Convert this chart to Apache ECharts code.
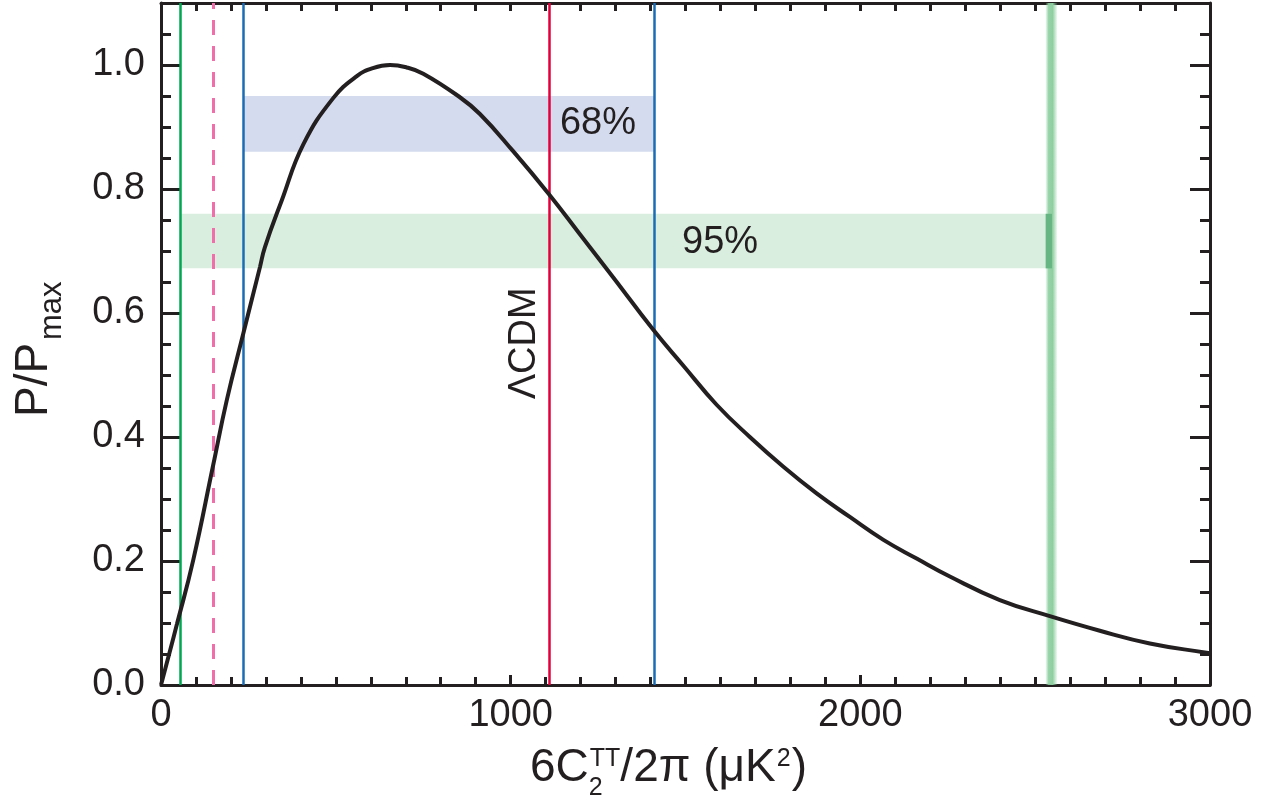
<!DOCTYPE html>
<html>
<head>
<meta charset="utf-8">
<script src="https://cdn.jsdelivr.net/npm/echarts@6/dist/echarts.min.js"></script>
<style>
html,body{margin:0;padding:0;background:#fff;}
#chart{width:1273px;height:799px;}
</style>
</head>
<body>
<div id="chart"></div>
<script>
// 曲线数据 (x, P/Pmax)
const xVals = [0, 46, 92, 149, 188, 235, 283, 297, 345, 407, 493, 560, 606, 655, 703, 750, 850, 912, 1007, 1109, 1198, 1294, 1409, 1494, 1589, 1684, 1780, 1875, 1970, 2066, 2161, 2256, 2399, 2542, 2685, 2828, 2990, 3000]
const yVals = [0, 0.099, 0.201, 0.354, 0.459, 0.566, 0.674, 0.706, 0.781, 0.872, 0.947, 0.982, 0.995, 1.0, 0.996, 0.986, 0.950, 0.921, 0.861, 0.792, 0.727, 0.657, 0.572, 0.515, 0.452, 0.400, 0.352, 0.309, 0.271, 0.234, 0.204, 0.175, 0.137, 0.111, 0.0875, 0.067, 0.052, 0.051]

// 竖线位置
const greenLineX = 55
const pinkLineX = 150
const blueLeftX = 235
const lcdmX = 1110
const blueRightX = 1410
const greenBandX = [2530, 2563]

// 置信区间带
const band68 = {x: [235, 1410], y: [0.86, 0.95]}
const band95 = {x: [55, 2548], y: [0.672, 0.76]}

// 刻度
const xTicks = [0, 1000, 2000, 3000]
const yTicks = [0, 0.2, 0.4, 0.6, 0.8, 1.0]

const FONT = "'Liberation Sans', Arial, Helvetica, sans-serif"
const INK = '#231f20'

let box = document.querySelector('#chart')
let myChart = echarts.init(box)

// 量文字宽度,用来排x轴标题
let ctx = document.createElement('canvas').getContext('2d')
function textW(s, size){
    ctx.font = size + 'px ' + FONT
    return ctx.measureText(s).width
}

function xAxisOf(pos, interval, len, showLabel, showLine){
    return {
        type:'value', position:pos, min:0, max:3000, interval:interval,
        axisLine:{show:showLine, onZero:false, lineStyle:{color:INK, width:3}},
        axisTick:{show:true, inside:true, length:len, lineStyle:{color:INK, width:3}},
        axisLabel:{show:showLabel, color:INK, fontSize:38, fontFamily:FONT, margin:12,
            formatter:v => xTicks.includes(v) ? String(v) : ''},
        splitLine:{show:false}
    }
}
function yAxisOf(pos, interval, len, showLabel, showLine){
    return {
        type:'value', position:pos, min:0, max:1.1, interval:interval,
        axisLine:{show:showLine, onZero:false, lineStyle:{color:INK, width:3}},
        axisTick:{show:true, inside:true, length:len, lineStyle:{color:INK, width:3}},
        axisLabel:{show:showLabel, color:INK, fontSize:38, fontFamily:FONT, margin:16,
            showMaxLabel:false,
            formatter:v => yTicks.some(t => Math.abs(t - v) < 1e-6) ? v.toFixed(1) : ''},
        splitLine:{show:false}
    }
}

// x轴标题各段位置
let x0 = 530
let x1 = x0 + textW('6C', 46)
let x2 = x1 + textW('TT', 25) + 1
let x3 = x2 + textW('/2π (μK', 46) + 1
let x4 = x3 + textW('2', 25) + 1

let option = {
    animation:false,
    backgroundColor:'#fff',
    grid:{left:161, right:63, top:3, bottom:114, containLabel:false},
    xAxis:[
        xAxisOf('bottom', 1000, 10, true, true),
        xAxisOf('bottom', 100, 8, false, false),
        xAxisOf('top', 1000, 8, false, true),
        xAxisOf('top', 100, 8, false, false)
    ],
    yAxis:[
        yAxisOf('left', 0.2, 20, true, true),
        yAxisOf('left', 0.05, 10, false, false),
        yAxisOf('right', 0.2, 20, false, true),
        yAxisOf('right', 0.05, 10, false, false)
    ],
    series:[
        {
            // 背景: 区间带与竖线
            type:'line', data:[], silent:true, z:1,
            markArea:{
                silent:true,
                data:[
                    [{xAxis:band68.x[0], yAxis:band68.y[0], itemStyle:{color:'#d5dbee'}}, {xAxis:band68.x[1], yAxis:band68.y[1]}],
                    [{xAxis:band95.x[0], yAxis:band95.y[0], itemStyle:{color:'#d9eedf'}}, {xAxis:band95.x[1], yAxis:band95.y[1]}],
                    [{xAxis:greenBandX[0], yAxis:0, itemStyle:{color:new echarts.graphic.LinearGradient(0,0,1,0,[
                        {offset:0, color:'rgba(142,207,160,0.1)'},
                        {offset:0.25, color:'rgba(142,207,160,0.9)'},
                        {offset:0.6, color:'rgba(142,207,160,1)'},
                        {offset:1, color:'rgba(142,207,160,0.1)'}
                    ])}}, {xAxis:greenBandX[1], yAxis:1.1}],
                    [{xAxis:greenBandX[0], yAxis:band95.y[0], itemStyle:{color:'#66b583'}}, {xAxis:band95.x[1], yAxis:band95.y[1]}]
                ]
            },
            markLine:{
                silent:true, symbol:'none', label:{show:false},
                data:[
                    {xAxis:greenLineX, lineStyle:{color:'#00a651', width:2.5, type:'solid'}},
                    {xAxis:pinkLineX, lineStyle:{color:'#f06eaa', width:3, type:[15,11]}},
                    {xAxis:blueLeftX, lineStyle:{color:'#1a6db5', width:2.5, type:'solid'}},
                    {xAxis:lcdmX, lineStyle:{color:'#e2003c', width:2.5, type:'solid'}},
                    {xAxis:blueRightX, lineStyle:{color:'#1a6db5', width:2.5, type:'solid'}}
                ]
            },
            markPoint:{
                silent:true, symbol:'circle', symbolSize:0,
                label:{show:true, color:INK, fontSize:38, fontFamily:FONT},
                data:[
                    {coord:[1141, 0.905], label:{formatter:'68%', position:'right', distance:0}},
                    {coord:[1490, 0.713], label:{formatter:'95%', position:'right', distance:0}},
                    {coord:[1041, 0.551], label:{formatter:'ΛCDM', position:'inside', rotate:90}}
                ]
            }
        },
        {
            type:'line', z:5,
            data:xVals.map((x, i) => [x, yVals[i]]),
            smooth:0.45,
            showSymbol:false,
            lineStyle:{color:INK, width:4},
            silent:true
        }
    ],
    graphic:[
        // x轴标题
        {type:'text', x:x0, y:768, style:{text:'6C', font:'46px ' + FONT, fill:INK, textVerticalAlign:'middle'}},
        {type:'text', x:x1, y:788, style:{text:'2', font:'25px ' + FONT, fill:INK, textVerticalAlign:'middle'}},
        {type:'text', x:x1 + 1, y:759, style:{text:'TT', font:'25px ' + FONT, fill:INK, textVerticalAlign:'middle'}},
        {type:'text', x:x2, y:768, style:{text:'/2π (μK', font:'46px ' + FONT, fill:INK, textVerticalAlign:'middle'}},
        {type:'text', x:x3, y:759, style:{text:'2', font:'25px ' + FONT, fill:INK, textVerticalAlign:'middle'}},
        {type:'text', x:x4, y:768, style:{text:')', font:'46px ' + FONT, fill:INK, textVerticalAlign:'middle'}},
        // y轴标题
        {type:'text', x:34, y:417, rotation:Math.PI/2, style:{text:'P/P', font:'46px ' + FONT, fill:INK, textVerticalAlign:'middle'}},
        {type:'text', x:52, y:340, rotation:Math.PI/2, style:{text:'max', font:'31px ' + FONT, fill:INK, textVerticalAlign:'middle'}}
    ]
}
myChart.setOption(option)
</script>
</body>
</html>
